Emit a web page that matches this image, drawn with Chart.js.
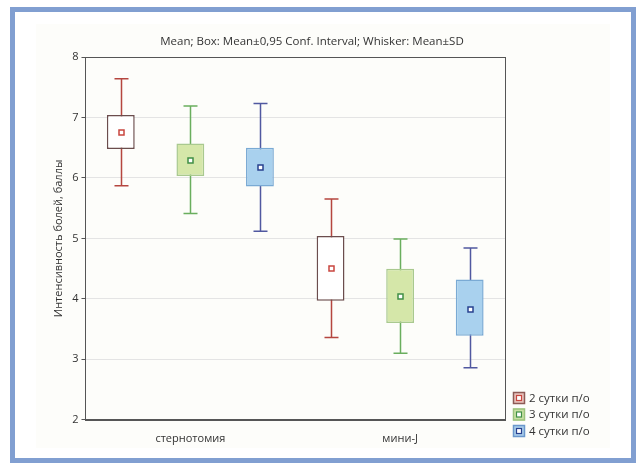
<!DOCTYPE html>
<html>
<head>
<meta charset="utf-8">
<script src="https://cdn.jsdelivr.net/npm/chart.js@4"></script>
<style>
    html, body { margin: 0; padding: 0; background: #ffffff; }
    #frame {
        position: absolute; left: 10px; top: 7px; width: 626px; height: 456px;
        box-sizing: border-box; border: 5px solid #819fd1;
    }
    #panel { position: absolute; left: 36px; top: 24px; width: 574px; height: 424px; background: #fdfdfa; }
    #wrap { position: absolute; left: 0; top: 0; width: 637px; height: 465px; }
</style>
</head>
<body>
<div id="frame"></div>
<div id="panel"></div>
<div id="wrap"><canvas id="boxChart" width="637" height="465"></canvas></div>
<script>
// categories and series
const categories = ['стернотомия', 'мини-J'];
const seriesLabels = ['2 сутки п/о', '3 сутки п/о', '4 сутки п/о'];
const chartTitle = 'Mean; Box: Mean±0,95 Conf. Interval; Whisker: Mean±SD';

// values, one row per series, one column per category
const means  = [[6.76, 4.51], [6.30, 4.04], [6.18, 3.84]];
const ciLow  = [[6.48, 3.97], [6.03, 3.60], [5.86, 3.39]];
const ciHigh = [[7.04, 5.04], [6.57, 4.50], [6.50, 4.32]];
const sdLow  = [[5.87, 3.36], [5.41, 3.10], [5.12, 2.86]];
const sdHigh = [[7.64, 5.65], [7.19, 4.99], [7.23, 4.84]];

const yMin = 2;
const yMax = 8;

// colours
const boxFill = ['#ffffff', '#d5e7a9', '#a9d1ee'];
const boxBorder = ['#6b4d4d', '#a9c98f', '#7aaad4'];
const whiskerColors = ['#b5463f', '#6aae5e', '#5058a0'];
const meanColors = ['#c9463f', '#3f8f45', '#27408f'];
const legendFill = ['#e9c3bd', '#c9e1a3', '#a9cdea'];
const legendBorder = ['#8d5a55', '#9bc27d', '#6a97cc'];

const fontFamily = '"Open Sans", "DejaVu Sans", sans-serif';

// whiskers behind the boxes, means, frame, title and legend above
const boxPlotPlugin = {
    id: 'boxPlotExtras',
    beforeDatasetsDraw(chart) {
        const ctx = chart.ctx;
        const y = chart.scales.y;
        ctx.save();
        chart.data.datasets.forEach((ds, i) => {
            const meta = chart.getDatasetMeta(i);
            meta.data.forEach((bar, j) => {
                const x = Math.round(bar.x) + 0.5;
                const top = y.getPixelForValue(sdHigh[i][j]);
                const bottom = y.getPixelForValue(sdLow[i][j]);
                const cap = 7;
                ctx.strokeStyle = whiskerColors[i];
                ctx.lineWidth = 1.5;
                ctx.beginPath();
                ctx.moveTo(x, top);
                ctx.lineTo(x, bottom);
                ctx.moveTo(x - cap, top);
                ctx.lineTo(x + cap, top);
                ctx.moveTo(x - cap, bottom);
                ctx.lineTo(x + cap, bottom);
                ctx.stroke();
            });
        });
        ctx.restore();
    },
    afterDatasetsDraw(chart) {
        const ctx = chart.ctx;
        const y = chart.scales.y;
        const area = chart.chartArea;
        ctx.save();
        chart.data.datasets.forEach((ds, i) => {
            const meta = chart.getDatasetMeta(i);
            meta.data.forEach((bar, j) => {
                const x = Math.round(bar.x) + 0.5;
                const my = Math.round(y.getPixelForValue(means[i][j])) + 0.5;
                ctx.fillStyle = '#ffffff';
                ctx.fillRect(x - 2.5, my - 2.5, 5, 5);
                ctx.strokeStyle = meanColors[i];
                ctx.lineWidth = 1.5;
                ctx.strokeRect(x - 2.5, my - 2.5, 5, 5);
            });
        });
        // plot frame
        ctx.strokeStyle = '#555555';
        ctx.lineWidth = 1;
        ctx.strokeRect(Math.round(area.left) + 0.5, Math.round(area.top) + 0.5,
            Math.round(area.right - area.left), Math.round(area.bottom - area.top));

        // title, centred on the whole figure
        ctx.fillStyle = '#333333';
        ctx.font = '11.5px ' + fontFamily;
        ctx.textAlign = 'center';
        ctx.textBaseline = 'middle';
        ctx.fillText(chartTitle, 312, area.top - 15);

        // legend at the lower right, outside the plot
        ctx.textAlign = 'left';
        seriesLabels.forEach((label, i) => {
            const lx = Math.round(area.right) + 8;
            const ly = Math.round(area.bottom) - 22 + i * 16.5;
            ctx.fillStyle = legendFill[i];
            ctx.fillRect(lx, ly - 6, 12, 12);
            ctx.strokeStyle = legendBorder[i];
            ctx.lineWidth = 1.5;
            ctx.strokeRect(lx + 0.5, ly - 5.5, 11, 11);
            ctx.fillStyle = '#ffffff';
            ctx.fillRect(lx + 3.5, ly - 2.5, 5, 5);
            ctx.strokeStyle = meanColors[i];
            ctx.lineWidth = 1.2;
            ctx.strokeRect(lx + 3.5, ly - 2.5, 5, 5);
            ctx.fillStyle = '#333333';
            ctx.fillText(label, lx + 16, ly + 0.5);
        });
        ctx.restore();
    }
};

const datasets = seriesLabels.map((label, i) => ({
    label: label,
    data: categories.map((c, j) => [ciLow[i][j], ciHigh[i][j]]),
    backgroundColor: boxFill[i],
    borderColor: boxBorder[i],
    borderWidth: 1.5,
    borderSkipped: false,
    categoryPercentage: 0.995,
    barPercentage: 0.4
}));

const ctxBox = document.getElementById('boxChart').getContext('2d');
const boxChart = new Chart(ctxBox, {
    type: 'bar',
    data: {
        labels: categories,
        datasets: datasets
    },
    options: {
        responsive: false,
        animation: false,
        layout: {
            padding: { left: 48, right: 132, top: 57, bottom: 16 }
        },
        scales: {
            x: {
                grid: { display: false },
                border: { display: true, color: '#555555' },
                ticks: {
                    padding: 4,
                    color: '#333333',
                    font: { family: fontFamily, size: 11 }
                }
            },
            y: {
                min: yMin,
                max: yMax,
                ticks: {
                    stepSize: 1,
                    padding: 3,
                    color: '#333333',
                    font: { family: fontFamily, size: 11 }
                },
                grid: {
                    color: '#e4e4e4',
                    tickColor: '#555555',
                    tickLength: 4
                },
                border: { display: true, color: '#555555' },
                title: {
                    display: true,
                    text: 'Интенсивность болей, баллы',
                    color: '#333333',
                    font: { family: fontFamily, size: 11 },
                    padding: { top: 4, bottom: 4 }
                }
            }
        },
        plugins: {
            legend: { display: false },
            tooltip: { enabled: false },
            title: { display: false }
        }
    },
    plugins: [boxPlotPlugin]
});
</script>
</body>
</html>
